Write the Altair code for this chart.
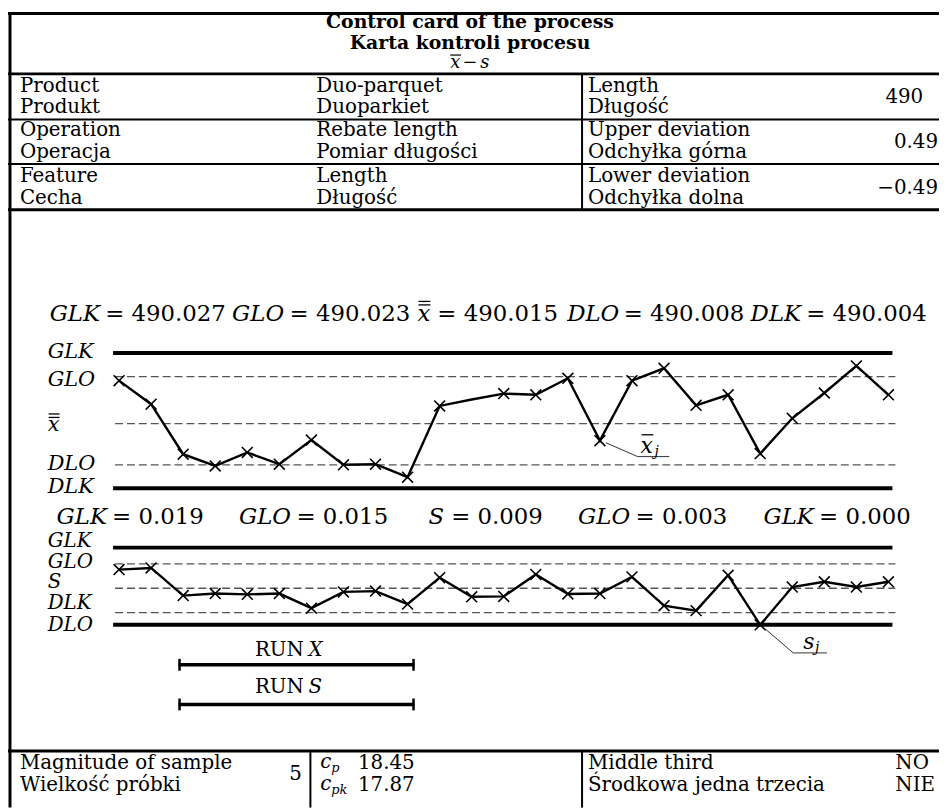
import altair as alt
import pandas as pd

W, H = 939, 803
OFF = 8
SERIF = "DejaVu Serif"

# ---------------- data ----------------
samples = list(range(1, 26))
xbar_values = [490.0223, 490.0183, 490.0098, 490.0078, 490.0101, 490.0081, 490.0122, 490.0080,
               490.0081, 490.0059, 490.0180, 490.0191, 490.0201, 490.0199, 490.0227, 490.0121,
               490.0223, 490.0244, 490.0181, 490.0199, 490.0099, 490.0159, 490.0202, 490.0248,
               490.0199]
s_values = [0.0136, 0.0140, 0.0072, 0.0077, 0.0075, 0.0077, 0.0041, 0.0081, 0.0083, 0.0051,
            0.0116, 0.0069, 0.0070, 0.0124, 0.0076, 0.0077, 0.0118, 0.0047, 0.0035, 0.0122,
            0.0000, 0.0093, 0.0106, 0.0093, 0.0106]
xbar_limit_names = ["GLK", "GLO", "x", "DLO", "DLK"]
xbar_limits = [490.027, 490.023, 490.015, 490.008, 490.004]
s_limit_names = ["GLK", "GLO", "S", "GLO", "GLK"]
s_axis_names = ["GLK", "GLO", "S", "DLK", "DLO"]
s_limits = [0.019, 0.015, 0.009, 0.003, 0.000]
limit_kind = ["solid", "dashed", "dashed", "dashed", "solid"]

header_col1 = ["Product", "Produkt", "Operation", "Operacja", "Feature", "Cecha"]
header_col2 = ["Duo-parquet", "Duoparkiet", "Rebate length", "Pomiar długości", "Length", "Długość"]
header_col3 = ["Length", "Długość", "Upper deviation", "Odchyłka górna", "Lower deviation", "Odchyłka dolna"]
header_values = ["490", "0.49", "\u22120.49"]
footer_col1 = ["Magnitude of sample", "Wielkość próbki"]
sample_size = "5"
cp_labels = ["c", "c"]
cp_subs = ["p", "pk"]
cp_values = ["18.45", "17.87"]
footer_col3 = ["Middle third", "Środkowa jedna trzecia"]
footer_values = ["NO", "NIE"]


def P(v):
    return v - OFF


def text_layer(rows, size=20, style="normal", weight="normal", align="left", baseline="middle"):
    df = pd.DataFrame([{"x": P(x), "y": P(y), "t": t} for x, y, t in rows])
    return alt.Chart(df).mark_text(
        align=align, baseline=baseline, font=SERIF, fontSize=size, fontStyle=style,
        fontWeight=weight, color="black"
    ).encode(
        x=alt.X("x:Q", scale=None, axis=None),
        y=alt.Y("y:Q", scale=None, axis=None),
        text="t:N",
    )


def rule_layer(rows, width=2.0, dash=None, color="black"):
    df = pd.DataFrame([{"x": P(a), "y": P(b), "x2": P(c), "y2": P(d)} for a, b, c, d in rows])
    kw = dict(strokeWidth=width, color=color)
    if dash:
        kw["strokeDash"] = dash
    return alt.Chart(df).mark_rule(**kw).encode(
        x=alt.X("x:Q", scale=None, axis=None),
        y=alt.Y("y:Q", scale=None, axis=None),
        x2="x2:Q",
        y2="y2:Q",
    )


layers = []
VL = 587   # right column divider
VF = 313   # footer divider

# ---------------- table frame ----------------
layers.append(rule_layer([
    (8, 10, 947, 10),
    (10, 10, 10, 811),
    (8, 71, 947, 71),
    (8, 208, 947, 208),
    (8, 754, 947, 754),
], width=3))
layers.append(rule_layer([
    (8, 117, 947, 117),
    (8, 162, 947, 162),
    (VL, 71, VL, 208),
    (VL, 754, VL, 811),
    (VF, 754, VF, 811),
], width=2))

# ---------------- header texts ----------------
layers.append(text_layer([(474, 19, "Control card of the process"),
                          (474, 39.5, "Karta kontroli procesu")], size=19, weight="bold", align="center"))
layers.append(text_layer([(459, 60, "x"), (489, 60, "s")], size=18, style="italic", align="center"))
layers.append(text_layer([(474, 60, "\u2212")], size=18, align="center"))
layers.append(rule_layer([(454, 52, 465, 52)], width=1.2))

row_y = [83, 104, 128, 150, 174, 196]
layers.append(text_layer([(20, y, t) for y, t in zip(row_y, header_col1)]
                         + [(319, y, t) for y, t in zip(row_y, header_col2)]
                         + [(VL + 6, y, t) for y, t in zip(row_y, header_col3)]))
layers.append(text_layer([(912, 94, header_values[0])], align="center"))
layers.append(text_layer([(946, 140, header_values[1]), (946, 186, header_values[2])], align="right"))

# ---------------- footer ----------------
layers.append(text_layer([(20, 766, footer_col1[0]), (20, 788, footer_col1[1]),
                          (361, 766, cp_values[0]), (361, 788, cp_values[1]),
                          (VL + 6, 766, footer_col3[0]), (VL + 6, 788, footer_col3[1]),
                          (903, 766, footer_values[0]), (903, 788, footer_values[1])]))
layers.append(text_layer([(298, 777, sample_size)], align="center"))
layers.append(text_layer([(323, 765, cp_labels[0]), (323, 787, cp_labels[1])], style="italic"))
layers.append(text_layer([(334, 771, cp_subs[0]), (334, 793, cp_subs[1])], size=13, style="italic"))

# ---------------- equations ----------------
def fmt(v):
    return f"= {v:.3f}"

EQ = 23
xbar_eq_x = [50, 234, 421, 572, 757]
xbar_var_w = [56, 58, 20, 57, 56]
layers.append(text_layer([(x, 313, n) for x, n in zip(xbar_eq_x, xbar_limit_names)], size=EQ, style="italic"))
layers.append(text_layer([(x + w, 313, fmt(v)) for x, w, v in zip(xbar_eq_x, xbar_var_w, xbar_limits)], size=EQ))
layers.append(rule_layer([(xbar_eq_x[2] + 1, 300.5, xbar_eq_x[2] + 13, 300.5),
                          (xbar_eq_x[2] + 1, 304, xbar_eq_x[2] + 13, 304)], width=1.3))

s_eq_x = [57, 241, 432, 583, 770]
s_var_w = [56, 58, 23, 58, 56]
layers.append(text_layer([(x, 518, n) for x, n in zip(s_eq_x, s_limit_names)], size=EQ, style="italic"))
layers.append(text_layer([(x + w, 518, fmt(v)) for x, w, v in zip(s_eq_x, s_var_w, s_limits)], size=EQ))

# ---------------- left labels ----------------
xbar_label_y = [352, 380, 425, 465, 488]
layers.append(text_layer([(48, y, n) for y, n in zip(xbar_label_y, xbar_limit_names)], size=21, style="italic"))
layers.append(rule_layer([(49, 414, 60, 414), (49, 417.5, 60, 417.5)], width=1.3))
s_label_y = [542, 563, 584, 605, 627]
layers.append(text_layer([(48, y, n) for y, n in zip(s_label_y, s_axis_names)], size=20, style="italic"))

# ---------------- control charts (data through scales) ----------------
XS = alt.Scale(domain=[1, 25], range=[P(120), P(896)])
YX = alt.Scale(domain=[490.004, 490.027], range=[P(489), P(352.5)])
YS = alt.Scale(domain=[0.0, 0.019], range=[P(626.7), P(548.8)])
XMARK = "M-1,-1L1,1M-1,1L1,-1"


def control_chart(values, limits, yscale, hide_marker=None):
    lim_df = pd.DataFrame({"v": limits, "kind": limit_kind})
    solid = alt.Chart(lim_df).transform_filter("datum.kind == 'solid'").mark_rule(
        color="black", strokeWidth=4).encode(
        y=alt.Y("v:Q", scale=yscale, axis=None), x=alt.value(P(114)), x2=alt.value(P(900)))
    dashed = alt.Chart(lim_df).transform_filter("datum.kind == 'dashed'").mark_rule(
        color="#555555", strokeWidth=1.3, strokeDash=[8, 4]).encode(
        y=alt.Y("v:Q", scale=yscale, axis=None), x=alt.value(P(116)), x2=alt.value(P(903)))
    df = pd.DataFrame({"i": samples, "v": values})
    line = alt.Chart(df).mark_line(color="black", strokeWidth=2.4).encode(
        x=alt.X("i:Q", scale=XS, axis=None), y=alt.Y("v:Q", scale=yscale, axis=None))
    pts_base = alt.Chart(df)
    if hide_marker:
        pts_base = pts_base.transform_filter(f"datum.i != {hide_marker}")
    pts = pts_base.mark_point(shape=XMARK, size=120, filled=False, strokeWidth=1.6,
                              color="black", opacity=1).encode(
        x=alt.X("i:Q", scale=XS, axis=None), y=alt.Y("v:Q", scale=yscale, axis=None))
    return alt.layer(solid, dashed, line, pts)


layers.append(control_chart(xbar_values, xbar_limits, YX, hide_marker=12))
layers.append(control_chart(s_values, s_limits, YS))

# ---------------- annotations ----------------
layers.append(rule_layer([(611, 443, 643, 457), (643, 457, 675, 457),
                          (772, 631, 800, 655), (800, 655, 834, 655)], width=0.8))
layers.append(text_layer([(646, 446, "x")], size=22, style="italic"))
layers.append(rule_layer([(647, 435, 659, 435)], width=1.3))
layers.append(text_layer([(660, 452, "j")], size=14, style="italic"))
layers.append(text_layer([(810, 644, "s")], size=22, style="italic"))
layers.append(text_layer([(822, 650, "j")], size=14, style="italic"))

# ---------------- RUN bars ----------------
layers.append(text_layer([(257, 652, "RUN"), (257, 689, "RUN")]))
layers.append(text_layer([(311, 652, "X"), (311, 689, "S")], style="italic"))
layers.append(rule_layer([(180, 667, 418, 667), (180, 707, 418, 707)], width=3.5))
layers.append(rule_layer([(181, 661, 181, 673), (417, 661, 417, 673),
                          (181, 701, 181, 713), (417, 701, 417, 713)], width=2.5))

chart = alt.layer(*layers).resolve_scale(x="independent", y="independent").properties(
    width=W, height=H, padding=0, autosize=alt.AutoSizeParams(type="none")
).configure_view(stroke=None)

chart.save("out.html", embed_options={"renderer": "svg", "actions": False})
